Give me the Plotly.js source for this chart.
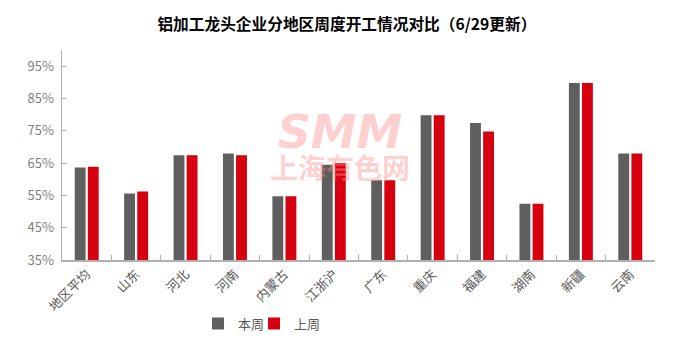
<!DOCTYPE html>
<html>
<head>
<meta charset="utf-8">
<script src="https://cdn.plot.ly/plotly-3.0.1.min.js"></script>
<style>html,body{margin:0;padding:0;background:#fff;}#chart{width:698px;height:351px;}</style>
</head>
<body>
<div id="chart"></div>
<script>
const categories = ['地区平均','山东','河北','河南','内蒙古','江浙沪','广东','重庆','福建','湖南','新疆','云南'];
const thisWeek = [63.6, 55.6, 67.4, 68.0, 54.7, 64.5, 59.7, 79.8, 77.4, 52.4, 89.8, 68.0];
const lastWeek = [63.9, 56.2, 67.4, 67.4, 54.7, 65.0, 59.7, 79.8, 74.8, 52.4, 89.8, 68.0];
const seriesNames = ['本周','上周'];
const tickVals = [35, 45, 55, 65, 75, 85, 95];
const tickText = tickVals.map(v => v + '%');

const FONT = '"Noto Sans CJK SC", "Microsoft YaHei", sans-serif';

const traces = [
  {type:'bar', name:seriesNames[0], x:categories, y:thisWeek, marker:{color:'#5f5f5f'}, hoverinfo:'skip', legend:'legend'},
  {type:'bar', name:seriesNames[1], x:categories, y:lastWeek, marker:{color:'#d7000f'}, hoverinfo:'skip', legend:'legend2'}
];

const legendBase = {orientation:'h', xanchor:'left', y:-0.303, yanchor:'middle',
  font:{family:FONT, size:13, color:'#595959'}, itemwidth:30, itemclick:false, bgcolor:'rgba(0,0,0,0)'};

const layout = {
  width:698, height:351,
  margin:{l:62, r:43, t:50, b:80},
  paper_bgcolor:'#fff', plot_bgcolor:'rgba(0,0,0,0)',
  font:{family:FONT, color:'#595959'},
  title:{text:'<b>铝加工龙头企业分地区周度开工情况对比（6/29更新）</b>', x:0.497, xanchor:'center', y:0.93, yanchor:'middle', font:{family:FONT, size:15.7, color:'#000'}},
  barmode:'group', bargap:0.47, bargroupgap:0.17,
  xaxis:{
    type:'category', showgrid:false, showline:true, linecolor:'#b0b0b0', linewidth:1.5,
    ticks:'inside', ticklen:5, tickcolor:'#b0b0b0', tickson:'boundaries',
    tickangle:-45, tickfont:{family:FONT, size:13, color:'#595959'}, fixedrange:true
  },
  yaxis:{
    range:[35, 100], tickvals:tickVals, ticktext:tickText, showgrid:false, zeroline:false,
    showline:true, linecolor:'#b0b0b0', linewidth:1.5, ticks:'inside', ticklen:5, tickcolor:'#b0b0b0',
    tickfont:{family:FONT, size:13, color:'#7f7f7f'}, ticklabelstandoff:4, fixedrange:true
  },
  legend: Object.assign({}, legendBase, {x:(198-62)/593}),
  legend2: Object.assign({}, legendBase, {x:(254-62)/593}),
  showlegend:true,
  annotations:[
    {text:'<span style="font-family:DejaVu Sans;font-size:46px"><b><i>SMM</i></b></span><br><span style="font-size:28px"><b>上海有色网</b></span>',
     xref:'paper', yref:'paper', x:(340-62)/593, y:(271-151.5)/221, xanchor:'center', yanchor:'middle', showarrow:false,
     font:{family:FONT, size:24, color:'rgba(255,140,140,0.42)'}}
  ]
};

Plotly.newPlot('chart', traces, layout, {displayModeBar:false, staticPlot:true});
</script>
</body>
</html>
